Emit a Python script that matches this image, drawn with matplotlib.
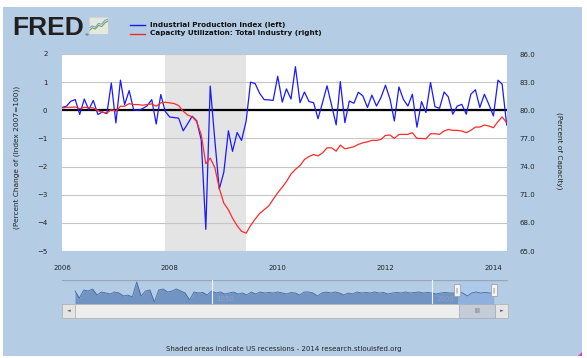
import datetime as dt
import matplotlib
matplotlib.use("Agg")
import matplotlib.pyplot as plt
from matplotlib.patches import Rectangle, Polygon
from matplotlib.lines import Line2D
from matplotlib.ticker import FormatStrFormatter

W, H = 587, 358
BG = "#b4cde4"

# Industrial Production Index, % change, monthly Jan 2006 - Apr 2014 (left axis)
ip_change = [
    0.10, 0.15, 0.32, 0.38, -0.15, 0.40, 0.02, 0.35, -0.15, -0.06, -0.12, 0.97,
    -0.45, 1.07, 0.20, 0.70, 0.02, 0.00, 0.06, 0.16, 0.38, -0.49, 0.56, -0.04,
    -0.24, -0.26, -0.28, -0.73, -0.48, -0.21, -0.37, -1.05, -4.23, 0.86, -1.05, -2.80,
    -2.20, -0.73, -1.46, -0.79, -1.07, -0.39, 1.00, 0.95, 0.60, 0.38, 0.37, 0.35,
    1.21, 0.29, 0.76, 0.40, 1.55, 0.27, 0.65, 0.31, 0.27, -0.30, 0.28, 0.87,
    0.18, -0.52, 1.02, -0.44, 0.33, 0.25, 0.64, 0.51, 0.10, 0.54, 0.15, 0.45,
    0.89, 0.39, -0.38, 0.83, 0.39, 0.15, 0.57, -0.60, 0.31, -0.08, 0.99, 0.13,
    0.07, 0.65, 0.48, -0.14, 0.15, 0.21, -0.14, 0.57, 0.73, 0.10, 0.57, 0.21,
    -0.20, 1.07, 0.93, -0.52,
]

# Capacity Utilization: Total Industry, % of capacity (right axis)
cap_util = [
    80.25, 80.32, 80.32, 80.36, 80.18, 80.32, 80.29, 80.25, 79.96, 79.79, 79.71, 80.07,
    79.90, 80.43, 80.43, 80.71, 80.61, 80.61, 80.54, 80.61, 80.68, 80.43, 80.79, 80.86,
    80.79, 80.71, 80.50, 79.90, 79.50, 79.30, 78.80, 77.40, 74.30, 74.90, 73.90, 71.70,
    70.10, 69.40, 68.50, 67.70, 67.10, 66.90, 67.70, 68.40, 69.00, 69.40, 69.80, 70.50,
    71.20, 71.80, 72.40, 73.20, 73.70, 74.10, 74.75, 75.07, 75.29, 75.14, 75.46, 76.00,
    76.00, 75.64, 76.29, 75.89, 76.00, 76.11, 76.36, 76.54, 76.64, 76.79, 76.79, 76.89,
    77.32, 77.36, 77.00, 77.43, 77.43, 77.43, 77.61, 77.00, 77.00, 76.96, 77.50, 77.50,
    77.43, 77.79, 77.96, 77.86, 77.86, 77.79, 77.61, 77.86, 78.21, 78.21, 78.43, 78.32,
    78.14, 78.79, 79.29, 78.68,
]

months = [dt.date(2006 + i // 12, i % 12 + 1, 1) for i in range(len(ip_change))]
recession = (dt.date(2007, 12, 1), dt.date(2009, 6, 1))
year_ticks = [2006, 2008, 2010, 2012, 2014]

# navigator: full history of the series, rough yearly values 1919-2014
nav_years = list(range(1919, 2015))
nav_vals = [
    2, -5, 3, 2, 4, -2, 1, 0, -1, 1, 0, -3, -2, -4, 11, -3, 2, 3, -9, 3,
    4, 1, 2, 4, 2, 0, -7, 1, 0, 0.5, -2, 2, 0, 1, -1, 0, 1, -1, 0, -2,
    1, -1, 1, 0, 0.5, 0, 1, 0, -1, 0.5, 0, -2, 1, 1, 0, -3, 0, 1, 0, 1,
    0, -2, 0, -1, 1, 0, 0.5, 0, 1, 0, 0.5, -1, 0, 0.5, 0, 1, 0, 0.5, 1, 0,
    0.5, 0, -1, 0, 0.5, 0, 0, 0.5, 0, -3, 0, 1, 0, 0.5, 0, 0,
]
nav_marks = [1950, 2000]

# small chart icon next to the logo
icon_x = [0, 1, 2, 3, 4, 5, 6]
icon_green = [1, 2, 1.6, 2.8, 2.4, 3.6, 4.2]
icon_blue = [2, 2.6, 2.2, 3.4, 3.2, 4.4, 4.8]


def box(x0, y0, x1, y1):
    return [x0 / W, 1 - y1 / H, (x1 - x0) / W, (y1 - y0) / H]


def rect(x0, y0, x1, y1, **kw):
    fig.add_artist(Rectangle((x0 / W, 1 - y1 / H), (x1 - x0) / W, (y1 - y0) / H,
                             transform=fig.transFigure, **kw))


fig = plt.figure(figsize=(W / 100, H / 100), dpi=100)
fig.patch.set_facecolor("white")
rect(3, 7, 582, 356, facecolor=BG, edgecolor="none", zorder=-10)

# main chart
ax = fig.add_axes(box(62, 54, 506.7, 251))
ax.set_facecolor("white")
for s in ax.spines.values():
    s.set_visible(False)
ax.axvspan(recession[0], recession[1], color="#e4e4e4", zorder=0, lw=0)
ax.set_ylim(-5, 2)
ax.set_yticks(range(-5, 3))
ax.yaxis.grid(True, color="#c6c6c6", lw=0.8, zorder=1)
ax.set_axisbelow(True)
ax.axhline(0, color="black", lw=1.6, zorder=2)
ax.plot(months, ip_change, color="#1a1aff", lw=0.9, zorder=3)
ax.set_xlim(months[0], months[-1])
ax.set_xticks([dt.date(y, 1, 1) for y in year_ticks])
ax.set_xticklabels([str(y) for y in year_ticks])
ax.tick_params(axis="x", length=0, pad=10, labelsize=5, labelcolor="#222222")
ax.tick_params(axis="y", length=0, pad=10.5, labelsize=5, labelcolor="#222222")

ax2 = ax.twinx()
for s in ax2.spines.values():
    s.set_visible(False)
ax2.plot(months, cap_util, color="#ff2a2a", lw=0.9, zorder=3)
ax2.set_ylim(65, 86)
ax2.set_yticks(range(65, 87, 3))
ax2.yaxis.set_major_formatter(FormatStrFormatter("%.1f"))
ax2.tick_params(axis="y", length=0, pad=9, labelsize=5, labelcolor="#222222")

fig.text(17 / W, 1 - 157 / H, "(Percent Change of (Index 2007=100))", rotation=90,
         ha="center", va="center", fontsize=5.3, color="#222222")
fig.text(559 / W, 1 - 151 / H, "(Percent of Capacity)", rotation=-90,
         ha="center", va="center", fontsize=5.3, color="#222222")

# logo and legend
fig.text(12 / W, 1 - 35 / H, "FRED", fontsize=19, fontweight="bold",
         family="Liberation Sans", color="#231f20", va="baseline")
fig.text(84.5 / W, 1 - 36 / H, "\u00ae", fontsize=3, color="#231f20", va="baseline")
icon = fig.add_axes(box(89, 17, 108, 34))
icon.set_facecolor("#e4e9df")
icon.plot(icon_x, icon_green, color="#6aa84f", lw=0.8)
icon.plot(icon_x, icon_blue, color="#7f9fc8", lw=0.8)
icon.set_xlim(0, 6)
icon.set_ylim(0, 5.5)
icon.set_xticks([])
icon.set_yticks([])
for s in icon.spines.values():
    s.set_color("#c8ccd0")
    s.set_linewidth(0.5)

fig.add_artist(Line2D([130 / W, 145 / W], [1 - 25 / H] * 2, color="#1a1aff", lw=1))
fig.add_artist(Line2D([130 / W, 145 / W], [1 - 34 / H] * 2, color="#ff2a2a", lw=1))
fig.text(150 / W, 1 - 24.5 / H, "Industrial Production Index (left)", fontsize=5.2,
         fontweight="bold", va="center", color="#111111")
fig.text(150 / W, 1 - 33.5 / H, "Capacity Utilization: Total Industry (right)", fontsize=5.2,
         fontweight="bold", va="center", color="#111111")

# navigator
nav = fig.add_axes(box(62, 280, 508, 304))
nav.set_facecolor(BG)
for s in nav.spines.values():
    s.set_visible(False)
nav.axhline(13, color="#9aa6b8", lw=1)
nav.fill_between(nav_years, nav_vals, -11, color="#7294c2", lw=0)
nav.plot(nav_years, nav_vals, color="#3f68a4", lw=0.6)
for yr in nav_marks:
    nav.axvline(yr, color="#eef3fa", lw=0.8)
    nav.text(yr + 1, -6, str(yr), fontsize=5, color="#8da3c2", va="center")
nav.axvspan(2006, 2014.3, color="#a8c8f2", alpha=0.55, lw=0)
nav.set_xlim(1916.05, 2017.25)
nav.set_ylim(-11, 13)
nav.set_xticks([])
nav.set_yticks([])

for hx in (454, 491):
    rect(hx, 284, hx + 6, 296, facecolor="#f4f4f4", edgecolor="#9a9a9a", lw=0.5, zorder=5)
    fig.text((hx + 3) / W, 1 - 290 / H, "||", fontsize=3.5, color="#888888",
             ha="center", va="center", zorder=6)

# scrollbar
rect(62, 304, 508, 318, facecolor="#ededed", edgecolor="#b4b4b4", lw=0.6)
rect(62, 304, 75, 318, facecolor="#e4e4e4", edgecolor="#b4b4b4", lw=0.6)
rect(495, 304, 508, 318, facecolor="#e4e4e4", edgecolor="#b4b4b4", lw=0.6)
rect(459, 304, 495, 318, facecolor="#c3ccd7", edgecolor="#a8b0bc", lw=0.6)
fig.text(68.5 / W, 1 - 311 / H, "\u25c4", fontsize=3.5, color="#666666", ha="center", va="center")
fig.text(501.5 / W, 1 - 311 / H, "\u25ba", fontsize=3.5, color="#666666", ha="center", va="center")
fig.text(477 / W, 1 - 311 / H, "III", fontsize=5, color="#666666", ha="center", va="center")

fig.text(284 / W, 1 - 349 / H,
         "Shaded areas indicate US recessions - 2014 research.stlouisfed.org",
         ha="center", va="center", fontsize=5, color="#222222")

# corner resize mark of the screenshot
fig.add_artist(Polygon([(578 / W, 1 - 356 / H), (582 / W, 1 - 356 / H), (582 / W, 1 - 352 / H)],
                       closed=True, transform=fig.transFigure, facecolor="#e040c0", lw=0))

fig.savefig("out.png", dpi=100)
